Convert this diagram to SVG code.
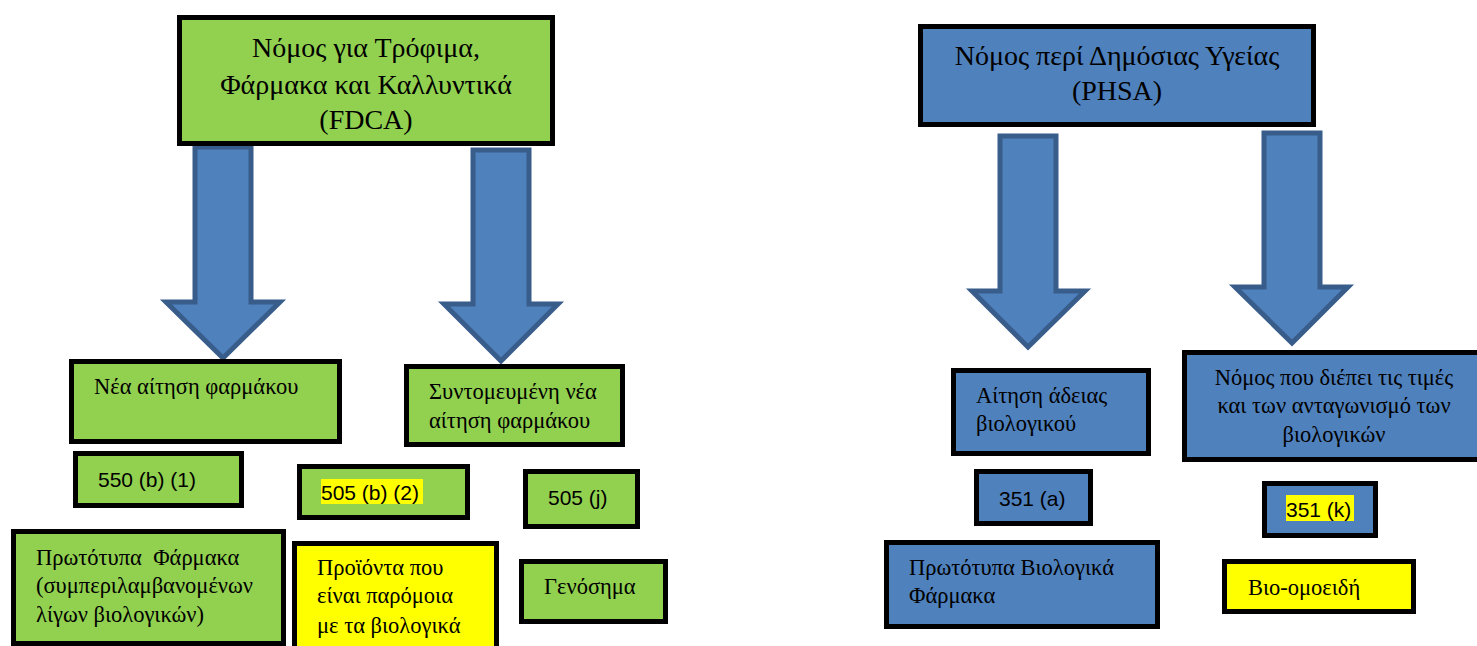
<svg xmlns="http://www.w3.org/2000/svg" width="1477" height="646" viewBox="0 0 1477 646">
<style>
.box{stroke:#000;stroke-width:5}
.g{fill:#92D050}
.b{fill:#4F81BD}
.y{fill:#FFFF00}
.arrow{fill:#4F81BD;stroke:#385D8A;stroke-width:5}
.t{font-family:"Liberation Serif","DejaVu Serif",serif;font-size:22.5px;fill:#000}
.h{font-family:"Liberation Serif","DejaVu Serif",serif;font-size:28px;fill:#000;text-anchor:middle}
.n{font-family:"Liberation Sans","DejaVu Sans",sans-serif;font-size:21px;fill:#000}
.hl{fill:#FFFF00}
</style>
<rect width="1477" height="646" fill="#fff"/>
<g id="connectors">
<path class="arrow" d="M195,147 H251 V302 H280 L223,358 L166,302 H195 Z"/>
<path class="arrow" d="M473,150 H529 V304 H558 L501,361 L444,304 H473 Z"/>
<path class="arrow" d="M1000,136 H1056 V291 H1085 L1028,347 L972,291 H1000 Z"/>
<path class="arrow" d="M1264,133 H1320 V287 H1348 L1292,343 L1235,287 H1264 Z"/>
</g>
<g id="fdca">
<rect class="box g" x="179.5" y="17.5" width="373" height="126"/>
<text class="h" x="366" y="57">Νόμος για Τρόφιμα,</text>
<text class="h" x="366" y="94">Φάρμακα και Καλλυντικά</text>
<text class="h" x="366" y="129">(FDCA)</text>
</g>
<g id="nda">
<rect class="box g" x="71.5" y="361.5" width="268" height="80"/>
<text class="t" x="94" y="394">Νέα αίτηση φαρμάκου</text>
</g>
<g id="anda">
<rect class="box g" x="406.5" y="366.5" width="216" height="78"/>
<text class="t" x="429" y="399">Συντομευμένη νέα</text>
<text class="t" x="429" y="428">αίτηση φαρμάκου</text>
</g>
<g id="s550">
<rect class="box g" x="75.5" y="453.5" width="166" height="52"/>
<text class="n" x="98" y="487">550 (b) (1)</text>
</g>
<g id="s505b2">
<rect class="box g" x="299.5" y="466.5" width="168" height="51"/>
<rect class="hl" x="321" y="479" width="102" height="25"/>
<text class="n" x="321" y="500">505 (b) (2)</text>
</g>
<g id="s505j">
<rect class="box g" x="525.5" y="471.5" width="112" height="55"/>
<text class="n" x="548" y="505">505 (j)</text>
</g>
<g id="original-drugs">
<rect class="box g" x="13.5" y="531.5" width="270" height="112"/>
<text class="t" x="36" y="565" xml:space="preserve">Πρωτότυπα  Φάρμακα</text>
<text class="t" x="36" y="593">(συμπεριλαμβανομένων</text>
<text class="t" x="36" y="622">λίγων βιολογικών)</text>
</g>
<g id="similar-products">
<rect class="box y" x="294.5" y="543.5" width="202" height="112"/>
<text class="t" x="317" y="575">Προϊόντα που</text>
<text class="t" x="317" y="603">είναι παρόμοια</text>
<text class="t" x="317" y="633">με τα βιολογικά</text>
</g>
<g id="generics">
<rect class="box g" x="521.5" y="561.5" width="144" height="60"/>
<text class="t" x="544" y="594">Γενόσημα</text>
</g>
<g id="phsa">
<rect class="box b" x="920.5" y="26.5" width="393" height="98"/>
<text class="h" x="1117" y="65">Νόμος περί Δημόσιας Υγείας</text>
<text class="h" x="1117" y="100">(PHSA)</text>
</g>
<g id="bla">
<rect class="box b" x="953.5" y="370.5" width="195" height="83"/>
<text class="t" x="976" y="403">Αίτηση άδειας</text>
<text class="t" x="976" y="431">βιολογικού</text>
</g>
<g id="bpcia">
<rect class="box b" x="1184.5" y="352.5" width="300" height="107"/>
<text class="t" x="1334" y="385" text-anchor="middle">Νόμος που διέπει τις τιμές</text>
<text class="t" x="1334" y="413" text-anchor="middle">και των ανταγωνισμό των</text>
<text class="t" x="1334" y="442" text-anchor="middle">βιολογικών</text>
</g>
<g id="s351a">
<rect class="box b" x="976.5" y="471.5" width="114" height="52"/>
<text class="n" x="999" y="506">351 (a)</text>
</g>
<g id="s351k">
<rect class="box b" x="1264.5" y="483.5" width="111" height="52"/>
<rect class="hl" x="1286" y="495" width="68" height="26"/>
<text class="n" x="1286" y="517">351 (k)</text>
</g>
<g id="original-biologics">
<rect class="box b" x="886.5" y="542.5" width="271" height="84"/>
<text class="t" x="909" y="575">Πρωτότυπα Βιολογικά</text>
<text class="t" x="909" y="603">Φάρμακα</text>
</g>
<g id="biosimilars">
<rect class="box y" x="1224.5" y="561.5" width="189" height="50"/>
<text class="t" x="1248" y="595">Βιο-ομοειδή</text>
</g>
</svg>
